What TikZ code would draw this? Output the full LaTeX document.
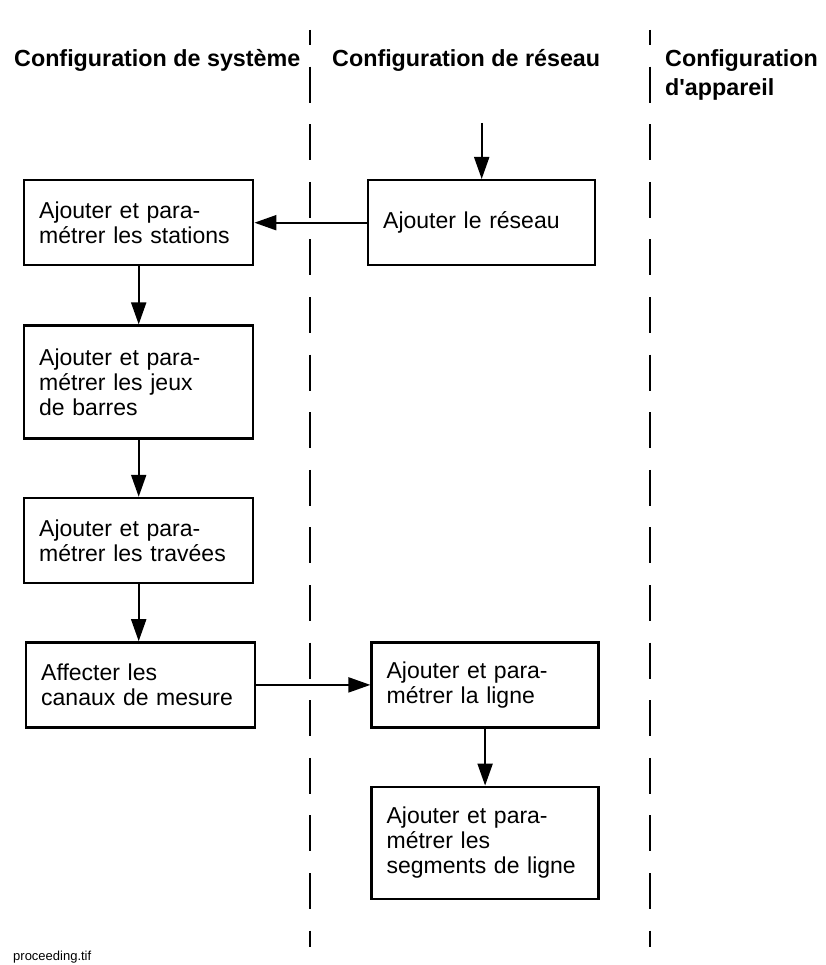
\documentclass[tikz,border=0pt]{standalone}
\usepackage{fontspec}
\setmainfont{Liberation Sans}
\usetikzlibrary{arrows.meta, positioning}

\begin{document}
\begin{tikzpicture}[x = 1pt, y = -1pt,
        stepbox/.style = {draw, rectangle, line width = 2.4pt, minimum width = 229pt, minimum height = 85pt, inner xsep = 15pt, text width = 199pt, align = left, font = \fontsize{23}{25}\selectfont},
        netbox/.style = {stepbox, minimum width = 227pt, text width = 197pt},
        lanehead/.style = {anchor = west, inner sep = 0pt, align = left, font = \fontsize{23.3}{29}\selectfont\bfseries},
        flow/.style = {draw, -{Triangle[length = 22pt, width = 15pt]}, line width = 2pt},
        lane/.style = {draw, line width = 2.4pt, dash pattern = on 36pt off 21.6pt, dash phase = 21pt}]
        \useasboundingbox (0, 0) rectangle (825, 965);

        % lanes
        \path[lane] (310, 30) -- (310, 947);
        \path[lane] (650, 30) -- (650, 947);

        \node[lanehead] at (14, 60) (hsys) {Configuration de système};
        \node[lanehead] at (332, 60) (hnet) {Configuration de réseau};
        \node[lanehead] at (665, 74.5) (hdev) {Configuration\\d\textquotesingle appareil};

        % system column
        \node[stepbox, anchor = north west] at (23, 179) (stations) {Ajouter et para-\\métrer les stations};
        \node[stepbox, minimum height = 113pt, anchor = north] at ([yshift = -58pt] stations.south) (jeux) {Ajouter et para-\\métrer les jeux\\de barres};
        \node[stepbox, anchor = north] at ([yshift = -57pt] jeux.south) (travees) {Ajouter et para-\\métrer les travées};
        \node[stepbox, anchor = north] at ([xshift = 2pt, yshift = -57pt] travees.south) (canaux) {Affecter les\\canaux de mesure};

        % network column
        \node[netbox, anchor = north west] at (367, 179) (reseau) {Ajouter le réseau};
        \node[netbox, anchor = west] at ([xshift = 114pt] canaux.east) (ligne) {Ajouter et para-\\métrer la ligne};
        \node[netbox, minimum height = 112pt, anchor = north] at ([yshift = -57pt] ligne.south) (segments) {Ajouter et para-\\métrer les\\segments de ligne};

        \coordinate (start) at ([yshift = 56pt] reseau.north);

        \path[flow] (start) -- (reseau.north);
        \path[flow] (reseau.west) -- (stations.east);
        \path[flow] (stations.south) -- (jeux.north);
        \path[flow] (jeux.south) -- (travees.north);
        \path[flow] (travees.south) -- (travees.south |- canaux.north);
        \path[flow] (canaux.east) -- (ligne.west);
        \path[flow] (ligne.south) -- (segments.north);

        \node[anchor = west, inner sep = 0pt, font = \fontsize{13}{15}\selectfont] at (13, 957) (fname) {proceeding.tif};
\end{tikzpicture}
\end{document}
